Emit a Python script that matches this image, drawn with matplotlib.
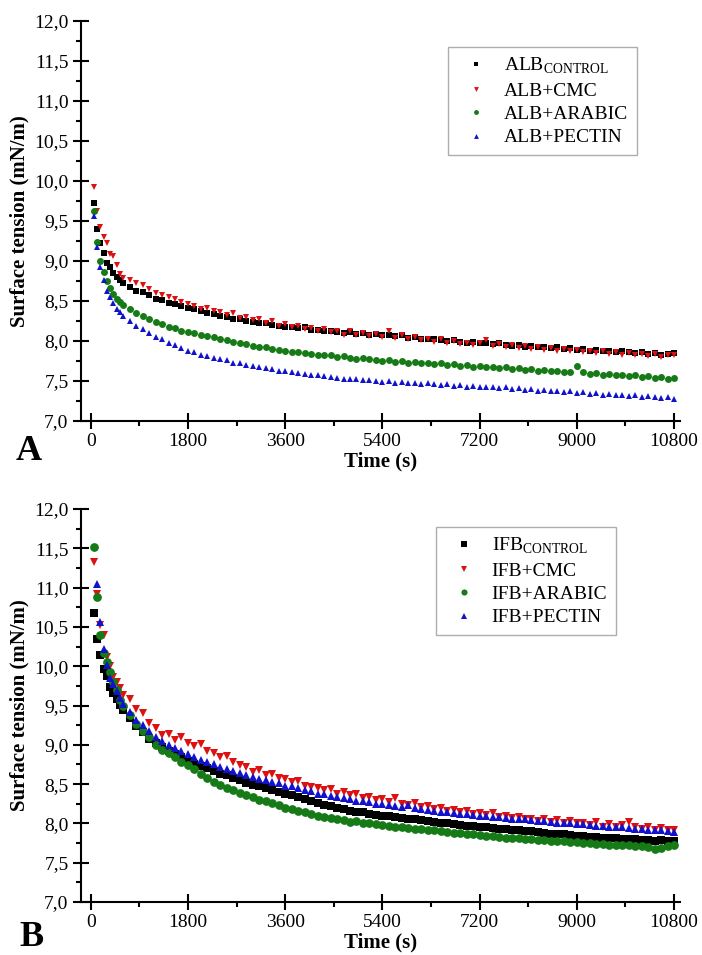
import numpy as np
import matplotlib
matplotlib.use("Agg")
import matplotlib.pyplot as plt
from matplotlib.ticker import MultipleLocator, FuncFormatter

plt.rcParams['font.family'] = ['Liberation Serif', 'DejaVu Serif']
plt.rcParams['mathtext.fontset'] = 'custom'
plt.rcParams['mathtext.rm'] = 'Liberation Serif'

# sampling times (s)
time_s = [60, 120, 180, 240, 300, 360, 420, 480, 540, 600,
          720, 840, 960, 1080, 1200, 1320, 1440, 1560, 1680, 1800,
          1920, 2040, 2160, 2280, 2400, 2520, 2640, 2760, 2880, 3000,
          3120, 3240, 3360, 3480, 3600, 3720, 3840, 3960, 4080, 4200,
          4320, 4440, 4560, 4680, 4800, 4920, 5040, 5160, 5280, 5400,
          5520, 5640, 5760, 5880, 6000, 6120, 6240, 6360, 6480, 6600,
          6720, 6840, 6960, 7080, 7200, 7320, 7440, 7560, 7680, 7800,
          7920, 8040, 8160, 8280, 8400, 8520, 8640, 8760, 8880, 9000,
          9120, 9240, 9360, 9480, 9600, 9720, 9840, 9960, 10080, 10200,
          10320, 10440, 10560, 10680, 10800]

# panel A - albumin
alb_control = [9.72, 9.40, 9.22, 9.10, 8.97, 8.92, 8.85, 8.80, 8.76, 8.72,
               8.68, 8.63, 8.61, 8.57, 8.53, 8.51, 8.48, 8.46, 8.44, 8.41,
               8.40, 8.38, 8.35, 8.34, 8.31, 8.30, 8.28, 8.27, 8.25, 8.24,
               8.22, 8.23, 8.20, 8.19, 8.18, 8.17, 8.16, 8.17, 8.14, 8.14,
               8.12, 8.13, 8.11, 8.10, 8.11, 8.09, 8.10, 8.08, 8.09, 8.08,
               8.07, 8.06, 8.07, 8.04, 8.05, 8.03, 8.02, 8.03, 8.01, 8.00,
               8.01, 7.99, 7.98, 7.99, 7.97, 7.98, 7.96, 7.97, 7.95, 7.94,
               7.95, 7.93, 7.94, 7.92, 7.93, 7.91, 7.92, 7.90, 7.91, 7.89,
               7.90, 7.88, 7.89, 7.87, 7.88, 7.86, 7.87, 7.86, 7.85, 7.86,
               7.84, 7.85, 7.83, 7.84, 7.85]
alb_cmc = [9.92, 9.63, 9.43, 9.30, 9.22, 9.09, 9.06, 8.95, 8.84, 8.79,
           8.76, 8.72, 8.70, 8.65, 8.60, 8.58, 8.55, 8.53, 8.49, 8.46,
           8.44, 8.40, 8.41, 8.37, 8.36, 8.33, 8.35, 8.29, 8.30, 8.26,
           8.27, 8.22, 8.25, 8.19, 8.21, 8.17, 8.19, 8.15, 8.16, 8.13,
           8.15, 8.11, 8.13, 8.08, 8.12, 8.07, 8.10, 8.06, 8.09, 8.05,
           8.12, 8.04, 8.08, 8.02, 8.05, 8.01, 8.03, 7.99, 8.02, 7.97,
           8.00, 7.96, 7.98, 7.95, 7.97, 8.01, 7.94, 7.96, 7.92, 7.95,
           7.91, 7.94, 7.90, 7.92, 7.89, 7.91, 7.88, 7.90, 7.87, 7.89,
           7.86, 7.88, 7.85, 7.87, 7.84, 7.86, 7.83, 7.85, 7.82, 7.84,
           7.81, 7.84, 7.80, 7.83, 7.82]
alb_arabic = [9.62, 9.24, 9.00, 8.86, 8.75, 8.66, 8.59, 8.53, 8.49, 8.45,
              8.40, 8.35, 8.31, 8.27, 8.24, 8.21, 8.18, 8.16, 8.13, 8.11,
              8.10, 8.08, 8.06, 8.05, 8.02, 8.01, 7.99, 7.98, 7.96, 7.94,
              7.93, 7.92, 7.90, 7.89, 7.87, 7.86, 7.86, 7.85, 7.84, 7.83,
              7.82, 7.82, 7.80, 7.81, 7.79, 7.78, 7.79, 7.77, 7.76, 7.75,
              7.76, 7.74, 7.75, 7.73, 7.74, 7.72, 7.73, 7.71, 7.72, 7.70,
              7.71, 7.69, 7.70, 7.68, 7.69, 7.67, 7.68, 7.66, 7.67, 7.65,
              7.66, 7.64, 7.65, 7.63, 7.64, 7.62, 7.63, 7.61, 7.61, 7.69,
              7.61, 7.59, 7.60, 7.58, 7.59, 7.57, 7.58, 7.56, 7.57, 7.55,
              7.56, 7.54, 7.55, 7.53, 7.54]
alb_pectin = [9.56, 9.17, 8.93, 8.76, 8.63, 8.55, 8.48, 8.40, 8.36, 8.31,
              8.25, 8.19, 8.15, 8.10, 8.05, 8.02, 7.98, 7.95, 7.91, 7.88,
              7.86, 7.83, 7.81, 7.79, 7.77, 7.76, 7.73, 7.72, 7.70, 7.69,
              7.67, 7.66, 7.65, 7.63, 7.62, 7.61, 7.60, 7.59, 7.58, 7.57,
              7.56, 7.55, 7.54, 7.53, 7.53, 7.52, 7.51, 7.51, 7.50, 7.49,
              7.50, 7.48, 7.49, 7.47, 7.48, 7.46, 7.47, 7.46, 7.45, 7.46,
              7.44, 7.45, 7.43, 7.44, 7.42, 7.43, 7.42, 7.41, 7.42, 7.40,
              7.41, 7.39, 7.40, 7.38, 7.39, 7.37, 7.38, 7.36, 7.37, 7.35,
              7.36, 7.34, 7.35, 7.33, 7.34, 7.32, 7.33, 7.31, 7.32, 7.30,
              7.31, 7.30, 7.29, 7.30, 7.27]

# panel B - IFB
ifb_control = [10.68, 10.34, 10.14, 9.97, 9.87, 9.74, 9.66, 9.58, 9.51, 9.44,
               9.34, 9.24, 9.16, 9.08, 9.02, 8.97, 8.92, 8.88, 8.84, 8.80,
               8.76, 8.73, 8.70, 8.67, 8.63, 8.61, 8.58, 8.55, 8.52, 8.49,
               8.47, 8.45, 8.42, 8.40, 8.38, 8.36, 8.33, 8.31, 8.29, 8.26,
               8.24, 8.22, 8.20, 8.18, 8.16, 8.15, 8.14, 8.12, 8.11, 8.10,
               8.09, 8.08, 8.07, 8.06, 8.05, 8.04, 8.03, 8.02, 8.01, 8.00,
               7.99, 7.98, 7.97, 7.97, 7.96, 7.95, 7.94, 7.93, 7.93, 7.92,
               7.91, 7.90, 7.90, 7.89, 7.88, 7.87, 7.87, 7.86, 7.85, 7.84,
               7.84, 7.83, 7.83, 7.82, 7.81, 7.81, 7.80, 7.80, 7.80, 7.79,
               7.79, 7.78, 7.79, 7.78, 7.78]
ifb_cmc = [11.33, 10.92, 10.52, 10.40, 10.12, 10.00, 9.86, 9.80, 9.72, 9.64,
           9.58, 9.45, 9.40, 9.28, 9.22, 9.12, 9.14, 9.06, 9.10, 9.02,
           8.98, 9.01, 8.92, 8.90, 8.84, 8.86, 8.78, 8.74, 8.72, 8.66,
           8.68, 8.62, 8.63, 8.58, 8.56, 8.53, 8.54, 8.48, 8.46, 8.45,
           8.42, 8.44, 8.38, 8.40, 8.36, 8.37, 8.32, 8.34, 8.30, 8.31,
           8.27, 8.32, 8.25, 8.24, 8.26, 8.21, 8.22, 8.18, 8.20, 8.16,
           8.17, 8.14, 8.16, 8.12, 8.13, 8.11, 8.13, 8.08, 8.10, 8.07,
           8.08, 8.05, 8.06, 8.03, 8.05, 8.02, 8.04, 8.01, 8.03, 8.00,
           8.01, 7.98, 8.02, 7.96, 7.99, 7.95, 7.98, 8.02, 7.96, 7.93,
           7.95, 7.92, 7.94, 7.91, 7.92]
ifb_arabic = [11.52, 10.88, 10.40, 10.17, 10.05, 9.93, 9.80, 9.70, 9.57, 9.50,
              9.38, 9.26, 9.17, 9.10, 9.00, 8.94, 8.90, 8.84, 8.78, 8.74,
              8.69, 8.63, 8.58, 8.53, 8.49, 8.45, 8.42, 8.39, 8.36, 8.33,
              8.30, 8.28, 8.26, 8.23, 8.20, 8.18, 8.16, 8.14, 8.12, 8.10,
              8.08, 8.07, 8.05, 8.04, 8.02, 8.03, 8.01, 8.00, 7.99, 7.98,
              7.97, 7.96, 7.95, 7.94, 7.93, 7.93, 7.92, 7.91, 7.90, 7.89,
              7.88, 7.88, 7.87, 7.86, 7.85, 7.84, 7.84, 7.83, 7.82, 7.82,
              7.81, 7.80, 7.80, 7.79, 7.79, 7.78, 7.77, 7.77, 7.76, 7.76,
              7.75, 7.75, 7.74, 7.74, 7.73, 7.73, 7.72, 7.72, 7.71, 7.71,
              7.70, 7.68, 7.69, 7.71, 7.73]
ifb_pectin = [np.nan, 11.04, 10.56, 10.22, 10.02, 9.85, 9.77, 9.68, 9.60, 9.52,
              9.42, 9.32, 9.25, 9.17, 9.10, 9.05, 9.00, 8.96, 8.92, 8.88,
              8.84, 8.81, 8.78, 8.75, 8.72, 8.69, 8.67, 8.64, 8.62, 8.59,
              8.57, 8.55, 8.53, 8.51, 8.48, 8.47, 8.45, 8.43, 8.41, 8.38,
              8.37, 8.35, 8.34, 8.32, 8.31, 8.29, 8.28, 8.27, 8.25, 8.25,
              8.23, 8.22, 8.21, 8.24, 8.19, 8.18, 8.17, 8.16, 8.15, 8.14,
              8.13, 8.12, 8.12, 8.11, 8.10, 8.09, 8.08, 8.08, 8.07, 8.06,
              8.05, 8.05, 8.04, 8.03, 8.03, 8.02, 8.01, 8.01, 8.00, 7.99,
              7.99, 7.98, 7.97, 7.97, 7.96, 7.95, 7.95, 7.94, 7.93, 7.93,
              7.92, 7.91, 7.91, 7.90, 7.89]

colors = ['black', '#dd1111', '#167a16', '#1212cc']
markers = ['s', 'v', 'o', '^']

fig = plt.figure(figsize=(7.02, 9.55), dpi=100)
axA = fig.add_axes([0.1154, 0.5592, 0.8533, 0.4188])
axB = fig.add_axes([0.1154, 0.0555, 0.8533, 0.4115])


def setup(ax, series, labels, msize, leg_anchor):
    for y, lab, c, m in zip(series, labels, colors, markers):
        ax.plot(time_s, y, linestyle='none', marker=m, color=c, markersize=msize,
                markeredgewidth=0, label=lab)
    ax.set_xlim(-180, 10910)
    ax.set_ylim(7.0, 12.0)
    ax.xaxis.set_major_locator(MultipleLocator(1800))
    ax.xaxis.set_minor_locator(MultipleLocator(900))
    ax.yaxis.set_major_locator(MultipleLocator(0.5))
    ax.yaxis.set_minor_locator(MultipleLocator(0.25))
    ax.yaxis.set_major_formatter(FuncFormatter(lambda v, p: f"{v:.1f}".replace('.', ',')))
    ax.spines['top'].set_visible(False)
    ax.spines['right'].set_visible(False)
    for s in ('left', 'bottom'):
        ax.spines[s].set_linewidth(1.5)
    ax.tick_params(which='major', direction='inout', length=11, width=1.5,
                   labelsize=14)
    ax.tick_params(which='minor', direction='out', length=3.5, width=1.5)
    ax.set_ylabel('Surface tension (mN/m)', fontsize=15, fontweight='bold', labelpad=3)
    ax.set_xlabel('Time (s)', fontsize=15, fontweight='bold', labelpad=1)
    leg = ax.legend(loc='upper left', bbox_to_anchor=leg_anchor, fontsize=14,
                    frameon=True, fancybox=False, edgecolor='#999999',
                    markerscale=0.7, handletextpad=0.4, borderpad=0.45,
                    labelspacing=0.3, borderaxespad=0)
    leg.get_frame().set_linewidth(1.0)


setup(axA, [alb_control, alb_cmc, alb_arabic, alb_pectin],
      [r'ALB$_{\rm CONTROL}$', 'ALB+CMC', 'ALB+ARABIC', 'ALB+PECTIN'],
      5.0, (0.613, 0.935))
setup(axB, [ifb_control, ifb_cmc, ifb_arabic, ifb_pectin],
      [r'IFB$_{\rm CONTROL}$', 'IFB+CMC', 'IFB+ARABIC', 'IFB+PECTIN'],
      6.3, (0.593, 0.954))

fig.text(0.022, 0.518, 'A', fontsize=26, fontweight='bold')
fig.text(0.028, 0.009, 'B', fontsize=26, fontweight='bold')

fig.savefig('out.png', dpi=100)
